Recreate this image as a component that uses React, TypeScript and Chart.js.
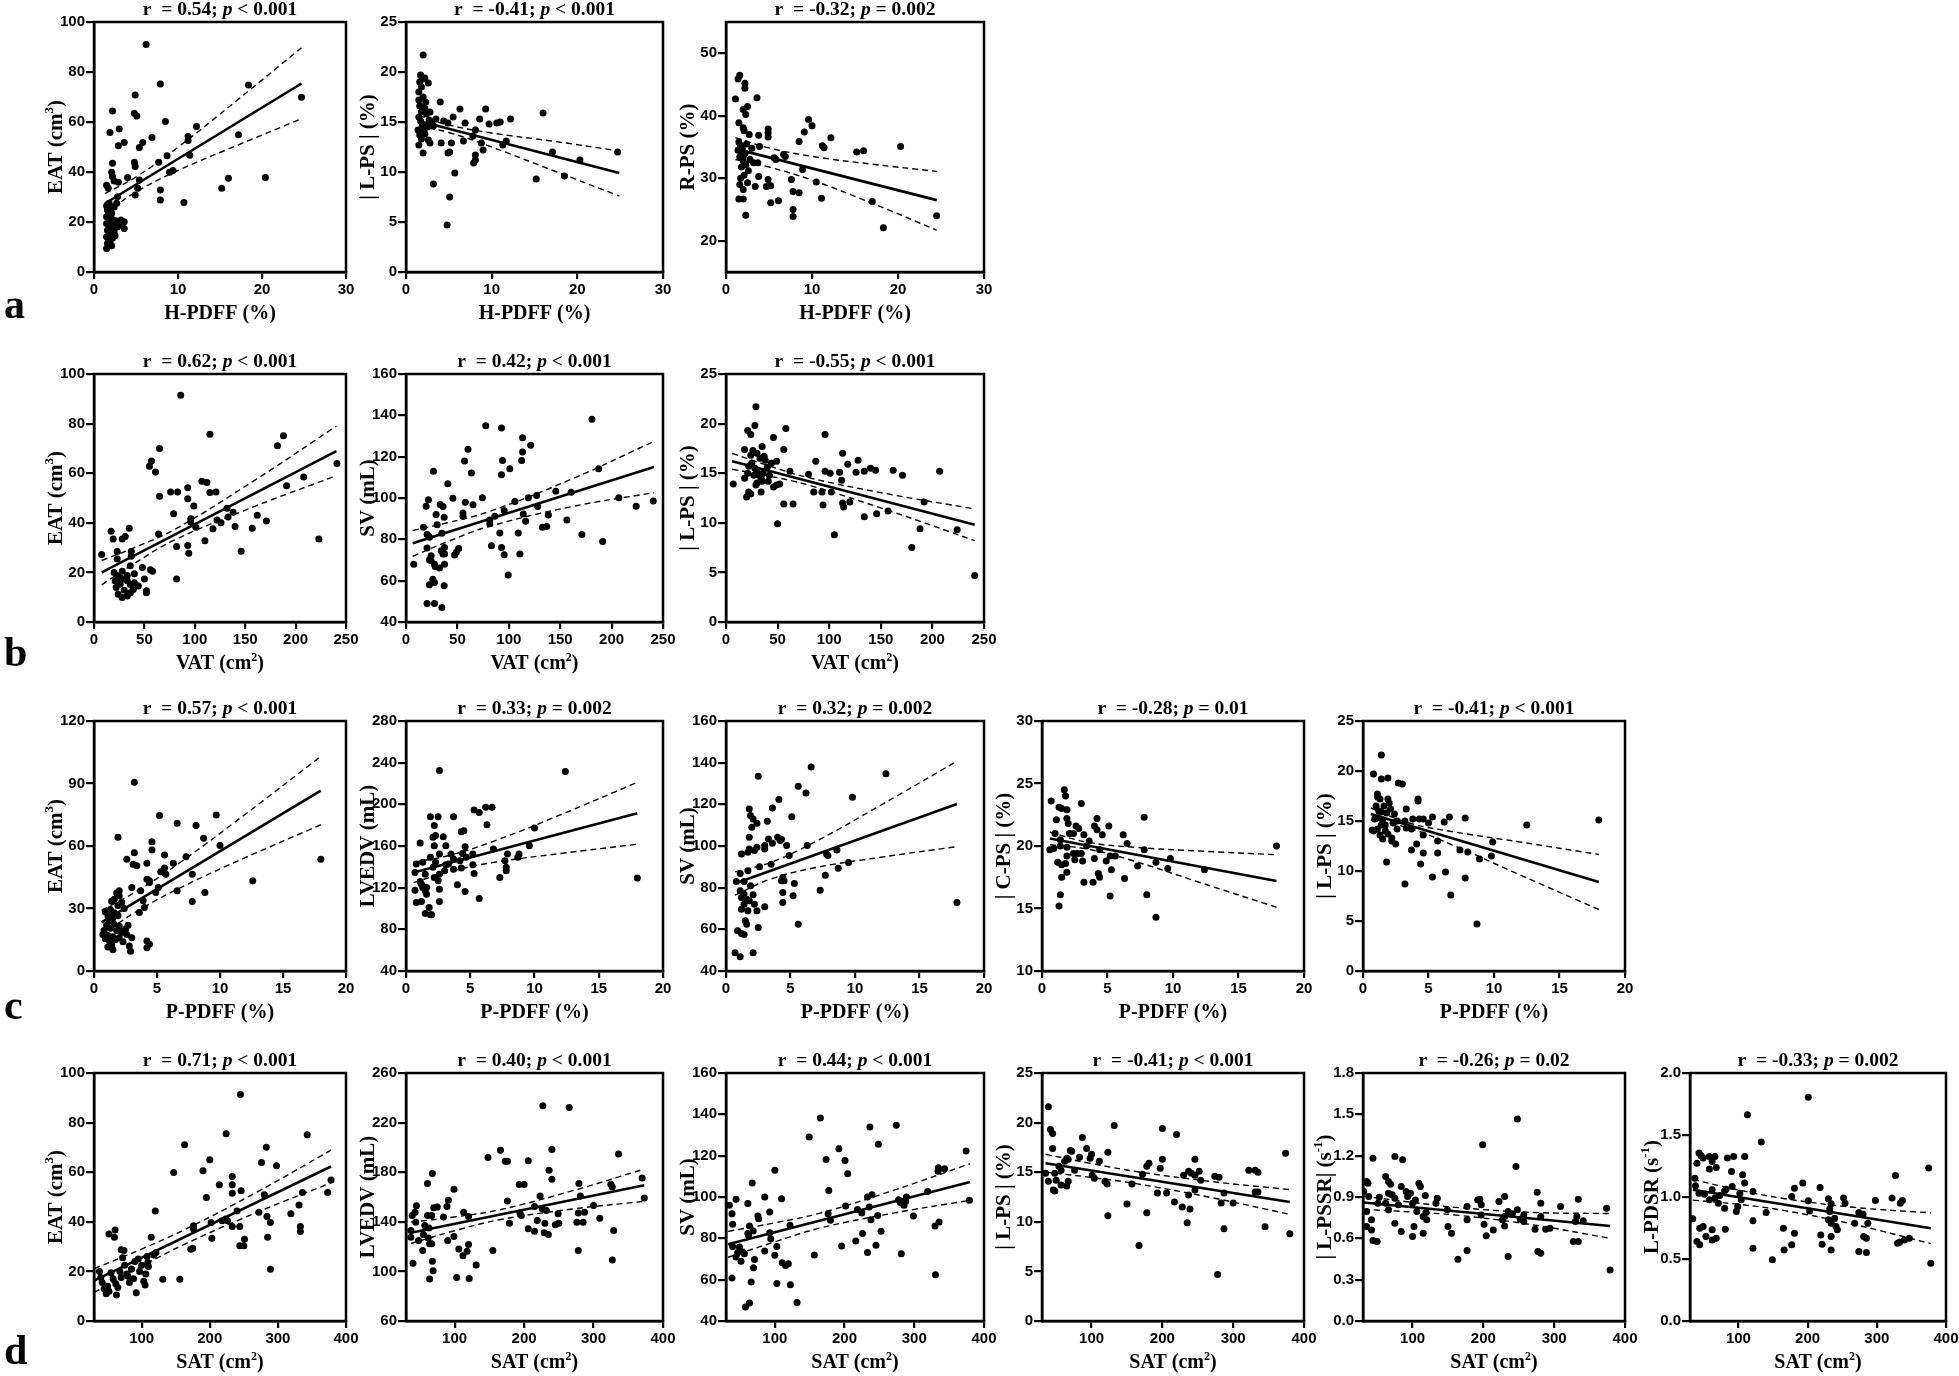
import React, { useEffect, useRef } from "react";
import { Chart, registerables } from "chart.js";
Chart.register(...registerables);

type Pt = [number, number];

// ---------- tick values / labels ----------
const xTicksHPDFF = [0, 10, 20, 30];
const xTicksVAT = [0, 50, 100, 150, 200, 250];
const xTicksPPDFF = [0, 5, 10, 15, 20];
const xTicksSAT = [100, 200, 300, 400];
const yTicksEAT100 = [0, 20, 40, 60, 80, 100];
const yTicksPS25 = [0, 5, 10, 15, 20, 25];
const yTicksRPS = [20, 30, 40, 50];
const yTicksSV = [40, 60, 80, 100, 120, 140, 160];
const yTicksEAT120 = [0, 30, 60, 90, 120];
const yTicksLVEDVc = [40, 80, 120, 160, 200, 240, 280];
const yTicksCPS = [10, 15, 20, 25, 30];
const yTicksLVEDVd = [60, 100, 140, 180, 220, 260];
const yTicksPSSR = [0, 0.3, 0.6, 0.9, 1.2, 1.5, 1.8];
const yLabelsPSSR = ["0.0", "0.3", "0.6", "0.9", "1.2", "1.5", "1.8"];
const yTicksPDSR = [0, 0.5, 1, 1.5, 2];
const yLabelsPDSR = ["0.0", "0.5", "1.0", "1.5", "2.0"];

// ---------- row a : H-PDFF ----------
const a1Pts: Pt[] = [[6.2,91],[7.9,75.2],[18.4,74.8],[4.9,70.8],[24.7,69.9],[2.2,64.4],[4.8,63.5],[5.1,62.4],[8.5,60.2],[12.2,58.2],[3.0,57.2],[1.9,55.8],[5.8,51.8],[5.4,49.8],[6.9,53.8],[11.2,54.2],[11.2,52.6],[17.2,54.9],[3.6,51.8],[2.9,50.5],[8.7,46.5],[11.4,46.7],[7.7,43.9],[4.8,43.9],[4.9,42.2],[2.2,43.5],[2.1,39.9],[2.2,38.2],[2.4,36.4],[4.0,37.8],[9.0,39.9],[9.4,40.6],[16.0,37.5],[20.4,37.8],[1.5,34.7],[1.7,33.5],[2.9,35.9],[5.4,36.8],[5.2,33.5],[4.9,30.8],[15.2,33.5],[7.9,32.8],[7.9,28.8],[10.7,27.8],[2.8,30.1],[1.5,26.4],[1.6,24.8],[1.5,22.1],[1.5,19.4],[1.6,16.7],[1.5,14.1],[1.6,11.4],[1.5,9.4],[1.8,27.5],[2.0,25.5],[2.1,23.5],[2.2,21.0],[2.3,18.5],[2.4,16.2],[2.2,13.5],[1.9,12.0],[2.6,20.5],[2.8,18.0],[3.2,20.8],[3.6,20.1],[3.6,17.4],[2.5,14.5],[1.8,18.0],[2.0,20.0],[1.7,22.5],[2.4,26.0],[2.7,27.5],[1.9,15.5],[2.1,10.5],[1.7,13.0],[3.0,19.0],[2.2,16.0]];
const a1FitX = [1.3, 24.7];
const a1FitY = [27.4, 75.4];
const a1BandX = [1.3, 5, 10, 17, 24.7];
const a1Upper = [31.4, 38.0, 49.9, 68.6, 89.7];
const a1Lower = [23.4, 32.0, 40.6, 50.6, 61.3];

const a2Pts: Pt[] = [[2.0,21.7],[1.7,19.7],[2.2,19.4],[2.6,18.9],[4.0,17.0],[6.3,16.3],[9.3,16.3],[16.0,15.9],[12.2,15.3],[11.0,15.0],[10.6,14.9],[9.7,14.8],[8.6,15.3],[5.5,15.5],[4.4,15.1],[4.9,14.9],[6.9,14.9],[8.1,14.2],[7.8,13.6],[6.7,13.1],[5.3,12.9],[5.1,12.0],[4.9,11.9],[4.1,12.9],[2.8,12.9],[8.8,12.9],[11.7,13.1],[11.3,12.7],[9.0,12.2],[8.1,11.2],[7.9,10.9],[8.1,11.7],[2.0,11.9],[17.1,12.0],[24.7,12.0],[20.3,11.2],[5.7,9.9],[15.2,9.3],[18.5,9.6],[3.2,8.8],[5.1,7.5],[4.8,4.7],[1.5,17.2],[1.6,16.6],[1.8,16.0],[1.5,15.5],[1.7,15.1],[1.9,14.6],[2.1,14.2],[1.6,13.7],[1.8,13.3],[2.2,13.8],[2.5,14.5],[2.7,15.2],[3.0,15.0],[2.4,15.8],[2.2,16.4],[1.5,18.0],[1.8,18.5],[2.0,17.5],[2.3,17.0],[1.4,14.2],[1.5,12.7],[3.2,14.6],[3.5,15.3],[2.8,16.0],[1.9,19.3],[1.6,19.0],[2.6,13.2]];
const a2FitX = [1.5, 24.9];
const a2FitY = [15.1, 9.9];
const a2BandX = [1.5, 5, 10, 17, 24.9];
const a2Upper = [15.65, 14.7, 13.9, 13.1, 12.1];
const a2Lower = [14.55, 13.95, 12.5, 10.2, 7.6];

const a3Pts: Pt[] = [[1.4,45.9],[1.6,46.5],[1.1,42.7],[2.2,45.2],[2.2,44.4],[3.6,42.9],[2.5,41.5],[2.0,41.0],[2.3,40.2],[1.5,38.9],[2.0,38.1],[2.1,37.6],[2.7,37.0],[4.9,37.9],[4.9,37.3],[3.8,36.9],[4.9,36.6],[1.7,35.1],[1.8,34.3],[2.0,33.5],[3.9,35.1],[5.6,33.3],[5.8,33.0],[6.7,33.8],[6.9,33.5],[3.7,32.5],[9.1,37.4],[9.6,39.4],[10.0,38.4],[12.2,36.5],[8.5,35.9],[11.2,35.2],[11.4,34.9],[15.2,34.2],[16.0,34.4],[20.3,35.1],[8.9,31.4],[10.5,29.4],[11.1,26.8],[2.0,28.2],[2.0,26.7],[1.5,26.7],[2.3,24.1],[3.4,28.7],[3.8,30.3],[4.7,28.7],[5.2,28.8],[5.2,26.1],[6.1,26.4],[4.9,29.8],[7.6,29.8],[7.8,27.9],[8.5,27.7],[7.8,25.0],[7.8,23.9],[17.0,26.3],[18.3,22.1],[24.5,24.0],[1.5,35.8],[1.7,35.3],[1.9,34.7],[2.2,34.0],[1.6,33.4],[2.0,32.8],[2.3,32.2],[1.8,31.8],[2.6,31.2],[2.1,30.5],[1.7,30.0],[2.5,29.3],[3.0,34.8],[2.8,33.0],[1.4,34.5],[2.4,35.5],[3.2,32.5],[1.6,29.0]];
const a3FitX = [1.1, 24.5];
const a3FitY = [34.7, 26.5];
const a3BandX = [1.1, 5, 10, 17, 24.5];
const a3Upper = [36.5, 34.85, 33.5, 32.25, 31.1];
const a3Lower = [33.0, 31.8, 29.7, 26.0, 21.7];

// ---------- row b : VAT ----------
const b1Pts: Pt[] = [[86,91.4],[115,75.7],[188,75.1],[182,71.1],[65,70.0],[57,64.9],[55,62.8],[61,60.5],[241,63.9],[208,58.5],[107,56.8],[112,56.2],[191,54.9],[65,50.7],[76,52.4],[83,52.4],[93,54.1],[93,49.7],[115,52.2],[121,52.4],[99,46.8],[132,45.9],[79,43.6],[96,41.6],[96,40.3],[126,40.0],[133,42.3],[138,44.3],[122,41.1],[110,32.8],[118,37.6],[140,38.5],[157,37.8],[162,43.0],[171,40.7],[101,38.2],[223,33.5],[82,30.4],[93,30.8],[94,27.7],[146,28.5],[64,35.5],[82,17.3],[7.6,27.2],[17,36.6],[19,33.5],[35,37.8],[31,34.5],[28,33.5],[23,28.4],[23,25.4],[37,28.4],[37,26.5],[36,22.7],[48,22.0],[56,21.1],[58,20.5],[20,20],[23,18.6],[26,17.8],[30,17.3],[33,16.6],[26,15.3],[22,13.9],[24,11.2],[28,9.9],[33,10.5],[36,15.1],[40,15.8],[39,13.1],[36,11.8],[33,18.8],[50,17.3],[52,12.6],[52,11.8],[40,19.5],[28,20.5],[44,14.5],[21,16.5],[30,12.8]];
const b1FitX = [7.6, 240.5];
const b1FitY = [20.0, 68.9];
const b1BandX = [7.6, 40, 80, 160, 240.5];
const b1Upper = [24.8, 30.0, 37.3, 57.3, 79.0];
const b1Lower = [15.0, 23.6, 33.1, 46.7, 59.0];

const b2Pts: Pt[] = [[7.5,68.0],[17.0,85.8],[19.6,96.0],[21.8,99.1],[20.5,82.3],[21.8,81.6],[22.8,81.0],[20.5,75.8],[22.8,70.1],[24.4,69.6],[24.4,72.1],[26.7,113.0],[27.7,68.0],[28.4,66.9],[29.3,92.0],[30.3,87.0],[26.1,60.7],[27.7,59.1],[22.8,58.0],[32.6,66.1],[33.2,96.8],[34.9,82.9],[35.9,95.9],[37.1,90.7],[37.5,76.1],[35.9,72.9],[34.2,74.5],[37.5,72.9],[37.5,68.0],[37.1,57.5],[20.5,48.9],[27.7,48.9],[34.9,47.0],[40.7,106.9],[45.6,99.9],[47.3,72.4],[48.9,73.7],[51.2,75.6],[55.4,91.2],[55.4,92.8],[57.0,117.9],[57.7,98.0],[60.3,123.6],[63.6,112.1],[65.2,96.7],[74.3,100.1],[77.6,134.9],[81.5,89.4],[81.5,87.5],[83.1,76.9],[86.4,91.2],[91.3,83.1],[92.9,133.9],[92.9,111.3],[93.9,118.2],[92.9,76.1],[95.5,72.6],[95.5,93.9],[99.4,62.7],[101.0,114.2],[105.9,98.3],[109.2,83.1],[110.8,72.9],[112.5,118.2],[113.4,129.1],[113.4,122.3],[114.1,92.3],[116.4,88.7],[119.0,100.1],[121.3,125.5],[127.1,101.2],[128.1,95.9],[132.7,85.8],[136.9,86.2],[138.5,91.8],[145.7,103.3],[156.5,89.4],[160.7,102.8],[171.1,82.3],[180.9,138.1],[187.4,114.2],[191.3,78.9],[207.0,100.1],[223.9,96.0],[240.5,98.5]];
const b2FitX = [6.5, 241.2];
const b2FitY = [78.1, 115.0];
const b2BandX = [6.5, 40, 80, 160, 241.2];
const b2Upper = [84.3, 88.0, 93.3, 108.9, 127.4];
const b2Lower = [71.8, 78.8, 86.1, 95.7, 102.6];

const b3Pts: Pt[] = [[29,21.7],[28,19.8],[21,19.3],[24,18.9],[58,19.5],[96,18.9],[46,18.6],[18,17.4],[35,17.7],[30,17.0],[56,17.4],[113,17.0],[37,16.7],[24,16.8],[49,16.2],[87,16.2],[128,16.3],[118,15.9],[145,15.3],[162,15.3],[171,14.8],[207,15.2],[140,15.5],[134,15.2],[126,15.1],[110,15.1],[96,15.2],[101,15.0],[80,14.9],[62,15.2],[21,15.0],[112,14.3],[18,14.5],[34,14.5],[41,14.2],[29,13.8],[22,13.1],[24,12.9],[34,13.1],[49,13.8],[52,13.9],[46,13.6],[85,13.1],[93,13.1],[102,13.1],[7,13.9],[20,12.6],[56,11.9],[65,11.9],[94,11.8],[113,12.0],[114,11.6],[120,12.1],[192,12.1],[134,10.6],[146,10.9],[157,11.2],[50,9.9],[105,8.8],[188,9.4],[224,9.3],[180,7.5],[241,4.7],[25,16.0],[28,15.5],[30,15.2],[32,14.8],[35,14.2],[38,16.3],[40,15.6],[27,14.8],[33,16.5],[36,15.0],[42,14.8],[30,14.0],[26,17.3],[44,16.0],[22,15.7]];
const b3FitX = [6, 241];
const b3FitY = [16.2, 9.8];
const b3BandX = [6, 40, 80, 160, 241];
const b3Upper = [17.0, 15.8, 14.55, 12.85, 11.4];
const b3Lower = [15.4, 14.75, 13.8, 11.15, 8.2];

// ---------- row c : P-PDFF ----------
const c1Pts: Pt[] = [[3.2,90.6],[5.2,74.6],[9.7,74.9],[6.6,70.9],[8.1,69.8],[18.0,53.7],[1.9,64.2],[8.7,63.7],[4.6,62.1],[10.0,60.2],[3.2,56.8],[4.6,58.1],[5.6,55.7],[7.3,54.9],[2.6,53.7],[3.1,51.3],[3.4,50.5],[4.2,51.7],[6.3,51.7],[5.6,49.4],[5.3,47.6],[5.7,46.5],[7.8,46.5],[4.2,44.1],[4.4,43.3],[12.6,43.3],[4.4,42.5],[5.1,40.1],[4.9,37.7],[8.8,37.7],[7.8,33.4],[6.6,38.5],[3.0,40.1],[3.7,38.5],[3.9,33.7],[4.0,30.5],[3.6,28.1],[2.0,38.5],[4.2,14.4],[4.4,12.8],[4.2,11.2],[1.8,37.5],[2.0,36.0],[1.6,34.5],[1.4,33.5],[2.2,33.0],[1.9,31.5],[1.3,29.5],[0.9,28.5],[1.6,28.0],[2.4,30.0],[1.1,26.5],[1.5,25.5],[1.9,26.5],[1.2,24.0],[1.0,22.0],[1.6,22.5],[2.0,21.5],[0.8,19.5],[1.3,20.5],[1.8,19.5],[2.2,18.5],[0.7,17.5],[1.1,17.0],[1.5,16.5],[2.0,16.0],[2.6,17.5],[1.2,14.5],[1.7,15.0],[0.9,15.5],[1.4,12.5],[1.1,11.5],[1.5,10.2],[2.8,12.0],[2.9,9.5],[2.3,14.0],[3.0,16.0],[2.5,20.0],[2.7,22.0]];
const c1FitX = [0.6, 18.0];
const c1FitY = [23.3, 86.6];
const c1BandX = [0.6, 3.5, 7, 12, 18];
const c1Upper = [29.1, 38.7, 52.8, 75.2, 103.0];
const c1Lower = [17.5, 29.0, 40.4, 54.4, 70.2];

const c2Pts: Pt[] = [[2.6,232.5],[12.4,231.5],[6.2,197.2],[6.7,197.2],[5.3,194.6],[5.7,192.1],[6.3,180.5],[1.9,188.2],[2.5,188.2],[3.7,188.2],[2.2,179.6],[2.3,170.0],[2.1,168.3],[4.5,174.7],[4.3,173.8],[2.9,169.0],[10.0,177.3],[1.1,162.9],[2.2,160.3],[3.1,160.3],[4.6,159.3],[9.6,160.3],[6.8,157.1],[2.6,152.3],[3.5,152.3],[4.4,152.9],[5.2,152.3],[7.9,152.3],[8.8,152.3],[3.7,147.5],[4.7,149.1],[8.7,149.1],[7.7,145.9],[1.9,149.1],[2.3,144.3],[3.1,142.0],[3.3,142.7],[4.2,145.9],[4.3,138.8],[0.8,142.7],[1.3,144.3],[2.1,139.5],[3.0,136.2],[3.7,137.8],[5.2,142.0],[5.3,133.7],[0.7,134.6],[1.5,133.0],[2.6,133.0],[7.8,136.2],[7.8,139.5],[7.3,129.8],[18.0,129.2],[1.1,126.0],[1.2,123.4],[1.3,120.2],[1.5,117.0],[1.6,113.8],[2.2,129.8],[2.5,126.6],[2.6,118.6],[4.0,122.8],[4.6,116.4],[2.6,106.7],[5.7,109.6],[0.8,105.8],[1.2,106.7],[1.8,101.0],[1.5,95.2],[1.9,93.9],[2.0,93.9],[0.7,117.6],[1.6,120.2]];
const c2FitX = [0.6, 18.0];
const c2FitY = [134.6, 191.4];
const c2BandX = [0.6, 3.5, 7, 12, 18];
const c2Upper = [144.3, 151.4, 165.4, 189.8, 221.1];
const c2Lower = [124.9, 135.8, 144.6, 152.8, 161.7];

const c3Pts: Pt[] = [[6.6,137.9],[12.4,134.7],[2.5,133.5],[5.6,128.7],[6.2,125.4],[9.8,123.4],[4.1,122.3],[3.6,118.3],[1.8,117.8],[1.9,114.6],[2.1,113.0],[5.1,114.1],[2.4,110.9],[3.2,111.9],[2.0,109.0],[1.8,104.2],[3.3,103.4],[4.0,104.2],[4.2,102.6],[4.3,103.2],[6.3,100.2],[4.7,100.2],[3.6,101.3],[3.0,100.2],[2.4,99.4],[3.0,98.6],[1.8,98.6],[1.2,96.2],[1.7,97.0],[2.2,97.8],[4.9,95.4],[7.8,96.2],[7.9,95.4],[8.6,98.1],[9.5,92.1],[3.5,91.3],[2.6,90.1],[1.7,88.1],[1.1,86.8],[4.4,84.9],[4.5,83.3],[4.3,83.3],[5.3,82.0],[7.7,86.0],[8.7,89.3],[0.8,83.0],[1.4,83.0],[1.9,80.9],[1.1,78.5],[1.4,76.9],[1.2,75.3],[1.6,74.5],[1.8,73.7],[1.4,72.1],[1.2,69.7],[1.7,68.9],[2.1,76.6],[2.2,72.1],[3.0,70.8],[2.4,68.9],[4.4,77.7],[4.4,72.9],[5.2,76.1],[7.3,78.8],[1.5,64.1],[1.6,62.5],[2.5,60.9],[5.6,62.5],[0.9,59.3],[1.2,58.0],[1.4,57.5],[0.7,48.8],[1.1,46.9],[2.1,48.8],[17.9,72.9]];
const c3FitX = [0.7, 17.9];
const c3FitY = [82.0, 120.2];
const c3BandX = [0.7, 3.5, 7, 12, 17.9];
const c3Upper = [87.6, 92.2, 102.3, 119.6, 140.7];
const c3Lower = [76.4, 84.2, 89.7, 94.6, 99.7];

const c4Pts: Pt[] = [[0.7,23.6],[1.7,24.5],[1.8,24.0],[3.0,23.4],[1.3,23.1],[1.5,23.0],[1.9,22.9],[1.9,22.2],[4.2,22.2],[7.8,22.3],[1.1,22.1],[2.0,21.8],[4.0,21.6],[5.1,21.6],[4.2,21.3],[2.6,21.6],[2.8,21.4],[1.0,21.0],[2.1,21.0],[2.4,21.0],[3.2,20.9],[4.6,20.9],[6.2,20.9],[1.4,20.5],[3.6,20.4],[1.4,20.0],[6.5,20.2],[0.6,19.7],[0.9,19.8],[3.4,20.0],[4.4,19.7],[7.8,19.7],[17.9,20.0],[1.9,19.9],[2.4,19.4],[2.7,19.4],[3.0,19.4],[1.9,19.2],[4.0,19.0],[5.2,19.2],[5.6,19.2],[1.2,18.7],[1.5,18.5],[1.8,18.6],[2.5,18.9],[3.1,18.8],[4.9,18.8],[7.3,18.4],[8.7,18.7],[9.8,19.0],[9.6,18.2],[12.4,18.1],[5.3,18.1],[1.9,17.9],[4.3,17.8],[4.4,17.5],[1.5,17.5],[3.2,17.1],[3.9,17.1],[6.3,17.4],[8.0,16.1],[5.2,16.0],[1.4,16.1],[1.3,15.2],[8.7,14.3]];
const c4FitX = [0.6, 17.9];
const c4FitY = [20.6, 17.2];
const c4BandX = [0.6, 3.5, 7, 12, 17.9];
const c4Upper = [21.1, 20.3, 19.9, 19.6, 19.3];
const c4Lower = [20.1, 19.75, 18.8, 17.1, 15.1];

const c5Pts: Pt[] = [[1.4,21.6],[0.8,19.7],[1.9,19.3],[1.4,19.2],[2.7,18.8],[3.0,18.7],[4.2,17.2],[4.2,17.0],[1.1,17.7],[1.1,17.4],[1.3,17.2],[1.9,17.2],[2.0,16.8],[3.3,16.2],[1.4,15.9],[2.4,15.7],[5.3,15.4],[6.6,15.4],[7.8,15.3],[18.0,15.1],[12.5,14.6],[0.9,15.2],[1.1,15.3],[1.5,15.1],[2.6,15.0],[3.2,15.0],[3.8,15.2],[4.3,15.2],[4.6,15.2],[5.0,14.8],[6.2,14.9],[3.3,14.3],[3.7,14.2],[0.7,14.1],[1.1,14.2],[1.7,14.0],[2.6,14.2],[4.6,13.6],[1.3,13.6],[1.5,13.2],[2.2,13.3],[2.2,13.0],[9.9,12.9],[2.5,12.7],[4.1,12.7],[5.7,13.0],[3.7,12.1],[4.6,11.8],[5.7,11.8],[7.4,12.1],[8.0,11.9],[9.8,11.5],[8.9,11.2],[1.8,10.9],[4.4,10.7],[6.3,9.9],[5.3,9.4],[7.8,9.3],[3.2,8.7],[6.7,7.6],[8.7,4.7],[1.0,16.5],[1.2,16.0],[1.6,16.5],[1.8,15.8],[2.1,16.2],[1.7,14.6],[2.3,14.8],[1.4,14.6],[0.8,14.0],[1.9,13.7]];
const c5FitX = [0.6, 18.0];
const c5FitY = [15.7, 8.9];
const c5BandX = [0.6, 3.5, 7, 12, 18];
const c5Upper = [16.3, 14.8, 13.9, 12.9, 11.65];
const c5Lower = [15.1, 14.3, 12.5, 9.6, 6.15];

// ---------- row d : SAT ----------
const d1Pts: Pt[] = [[245,91.3],[224,75.5],[343,75.1],[163,71.1],[283,70.1],[276,63.9],[200,65.0],[147,59.9],[190,60.6],[298,62.6],[378,56.9],[233,58.3],[214,54.9],[233,54.9],[233,51.5],[246,52.5],[195,49.8],[373,51.8],[336,51.8],[280,50.9],[240,44.4],[272,43.9],[319,43.2],[331,46.8],[120,44.4],[223,41.1],[218,40.4],[226,40.4],[244,38.1],[233,38.1],[176,38.4],[176,37.0],[202,39.7],[284,42.1],[289,39.7],[333,38.1],[333,36.1],[114,33.8],[203,33.4],[172,28.9],[175,29.3],[244,30.3],[250,30.3],[251,33.0],[285,33.8],[61,36.7],[52,35.1],[60,33.8],[70,28.7],[74,28.4],[121,27.6],[118,26.6],[109,23.6],[289,20.9],[131,16.8],[156,16.8],[92,11.4],[38,20],[40,17.5],[42,15.5],[45,13],[48,11],[50,14],[55,19.5],[58,17],[62,15],[65,13.5],[68,20],[70,17.5],[75,22.5],[78,19],[82,15.5],[85,21],[88,17],[90,24],[95,25],[97,20],[100,22.5],[103,16],[105,14.5],[106,19],[108,26],[110,22],[63,10.5],[52,12],[72,25.5],[80,18]];
const d1FitX = [30, 378];
const d1FitY = [16.3, 62.3];
const d1BandX = [30, 100, 165, 270, 378];
const d1Upper = [21.1, 29.0, 37.1, 52.1, 68.9];
const d1Lower = [11.5, 22.1, 31.2, 43.9, 55.7];

const d2Pts: Pt[] = [[227,233.5],[265,232.2],[166,197.8],[240,198.4],[336,194.6],[148,191.9],[173,188.9],[176,188.9],[206,189.2],[236,181.6],[68,178.9],[325,170.3],[327,168],[279,170.8],[240,174.3],[200,170.0],[193,170.0],[370,175.4],[61,170.8],[99,166.2],[176,156.8],[91,157.3],[223,160.8],[281,160.8],[373,159.2],[300,153.2],[45,153.0],[75,151.9],[70,151.4],[89,152.4],[61,145.1],[67,145.1],[43,147.8],[215,152.4],[226,150.5],[232,149.2],[249,146.5],[278,147.0],[287,147.8],[194,147.0],[196,145.0],[179,138.9],[113,147.8],[120,144.3],[84,143.8],[39,145.1],[44,139.7],[57,137.0],[63,135.1],[37,133.0],[219,141.1],[230,138.9],[245,137.6],[250,138.9],[276,139.7],[285,139.7],[309,142.9],[329,133.0],[206,134.3],[215,132.4],[229,131.1],[235,129.7],[37,127.6],[48,124.9],[55,129.7],[62,127.0],[64,122.2],[67,122.2],[90,124.9],[99,128.1],[120,121.6],[106,118.1],[118,116.2],[112,112.7],[54,116.8],[40,106.5],[68,108.1],[69,100.5],[131,105.1],[103,95.1],[121,94.3],[64,93.8],[155,116.8],[278,116.8],[327,109.2]];
const d2FitX = [37, 373];
const d2FitY = [131.1, 169.5];
const d2BandX = [37, 100, 165, 270, 373];
const d2Upper = [139.7, 143.9, 149.7, 165.1, 182.5];
const d2Lower = [122.5, 132.8, 141.7, 150.3, 156.5];

const d3Pts: Pt[] = [[34.7,96.0],[38.6,91.9],[39.5,86.8],[44.4,98.9],[38.6,60.8],[39.5,76.1],[44.4,71.0],[46.8,73.1],[49.2,75.8],[51.6,68.9],[54.0,73.4],[56.4,72.6],[61.3,96.9],[62.3,81.5],[61.3,82.3],[63.7,86.0],[67.6,106.8],[69.0,83.5],[69.5,65.8],[70.9,69.7],[66.1,58.9],[75.8,90.8],[76.8,89.5],[85.5,100.0],[85.5,73.9],[92.7,92.7],[92.7,82.7],[94.2,79.8],[100,112.9],[100,71.8],[102.9,76.1],[102.9,58.1],[109.7,99.2],[110.6,68.2],[115.5,66.9],[119.4,67.7],[121.8,86.3],[122.3,57.6],[57.9,46.8],[63.7,48.7],[131.9,48.9],[149.3,129.0],[156.6,71.9],[165.3,138.2],[173.5,118.1],[176.4,91.9],[177.4,103.2],[179.8,88.7],[191.9,123.4],[195.8,76.3],[200.6,117.7],[201.6,95.6],[204.5,111.3],[216.1,78.7],[218.5,93.9],[224.8,92.3],[225.8,82.3],[233.0,100.0],[233.0,73.1],[235.4,95.2],[236.4,133.9],[237.9,89.0],[239.3,101.1],[245.1,76.6],[247.6,91.1],[248.5,125.5],[252.4,83.4],[274.2,134.7],[277.6,98.7],[280,97.3],[283.8,96.8],[285.3,96.0],[287.7,97.9],[288.7,100.0],[281.4,72.6],[298.8,90.8],[319.2,102.7],[330.3,62.4],[329.8,86.0],[335.6,87.9],[334.6,114.2],[334.2,112.4],[343.4,113.7],[374.3,122.3],[379.1,98.4]];
const d3FitX = [33, 380];
const d3FitY = [77.1, 107.3];
const d3BandX = [33, 100, 165, 270, 380];
const d3Upper = [83.35, 87.5, 92.2, 103.2, 116.1];
const d3Lower = [70.85, 78.3, 85.0, 92.2, 98.4];

const d4Pts: Pt[] = [[39,21.6],[42,19.3],[45,18.9],[132,19.7],[200,19.4],[220,18.8],[87,18.5],[70,17.2],[72,17.1],[93,17.4],[100,16.8],[123,17.0],[111,16.1],[83,16.5],[65,16.4],[67,16.3],[200,16.3],[374,16.9],[178,15.6],[181,15.9],[246,16.3],[98,16.4],[54,15.6],[57,15.2],[76,15.2],[35,14.9],[48,14.9],[322,15.2],[331,15.2],[335,15.0],[172,14.8],[197,15.4],[230,14.7],[237,15.1],[241,14.9],[246,14.7],[252,15.1],[101,14.7],[104,14.4],[274,14.6],[280,14.5],[119,14.1],[39,14.1],[50,14.2],[57,13.7],[46,13.2],[48,13.1],[65,13.6],[157,13.8],[122,13.8],[254,14.2],[237,12.7],[246,13.2],[193,12.9],[206,12.9],[217,12.0],[228,11.5],[239,11.3],[331,13.0],[335,13.0],[287,12.9],[283,11.9],[300,11.9],[150,11.8],[178,10.9],[123,10.6],[235,9.9],[287,9.3],[345,9.5],[380,8.8],[167,7.6],[278,4.7],[45,17.4],[67,14.1],[62,16.1]];
const d4FitX = [35, 380];
const d4FitY = [15.9, 12.0];
const d4BandX = [35, 100, 165, 270, 380];
const d4Upper = [16.8, 15.87, 15.05, 14.05, 13.25];
const d4Lower = [15.0, 14.47, 13.82, 12.43, 10.75];

const d5Pts: Pt[] = [[248,1.466],[199,1.279],[44,1.182],[75,1.194],[86,1.170],[246,1.122],[35,1.013],[37,1.000],[62,1.049],[66,1.013],[69,0.993],[84,0.976],[109,1.000],[91,0.940],[66,0.928],[71,0.916],[111,0.976],[97,0.928],[118,0.911],[135,0.891],[192,0.879],[195,0.884],[222,0.867],[230,0.904],[276,0.935],[38,0.904],[31,0.940],[53,0.899],[75,0.891],[93,0.904],[104,0.879],[51,0.855],[62,0.855],[80,0.843],[100,0.855],[133,0.855],[197,0.843],[248,0.807],[281,0.855],[334,0.884],[35,0.795],[66,0.807],[106,0.795],[119,0.787],[149,0.807],[177,0.831],[197,0.770],[235,0.795],[241,0.778],[230,0.758],[257,0.770],[309,0.831],[332,0.758],[374,0.819],[42,0.734],[75,0.710],[115,0.758],[120,0.734],[150,0.686],[177,0.734],[201,0.703],[227,0.734],[252,0.739],[281,0.758],[330,0.722],[341,0.727],[257,0.722],[230,0.690],[214,0.661],[35,0.686],[42,0.661],[102,0.686],[155,0.637],[273,0.666],[288,0.666],[294,0.673],[115,0.637],[84,0.649],[100,0.613],[50,0.577],[44,0.584],[204,0.618],[327,0.577],[334,0.577],[277,0.504],[281,0.492],[177,0.511],[164,0.448],[235,0.468],[379,0.371]];
const d5FitX = [31, 379];
const d5FitY = [0.86, 0.69];
const d5BandX = [31, 100, 165, 270, 379];
const d5Upper = [0.905, 0.861, 0.823, 0.788, 0.78];
const d5Lower = [0.81, 0.791, 0.767, 0.698, 0.6];

const d6Pts: Pt[] = [[201,1.804],[113,1.664],[133,1.443],[43,1.354],[46,1.332],[49,1.314],[40,1.273],[37,1.152],[58,1.327],[66,1.327],[62,1.287],[84,1.314],[93,1.327],[109,1.327],[68,1.238],[58,1.225],[90,1.206],[106,1.179],[109,1.112],[375,1.233],[327,1.174],[38,1.090],[62,1.058],[82,1.063],[80,1.050],[91,1.085],[102,1.031],[121,1.044],[51,1.023],[73,1.012],[58,0.977],[66,0.991],[104,0.977],[181,1.071],[193,1.112],[218,1.077],[177,1.004],[201,0.969],[203,0.888],[140,0.875],[43,1.031],[71,0.950],[80,0.910],[97,0.883],[99,0.923],[230,0.985],[234,0.945],[254,0.950],[252,0.991],[232,0.904],[232,0.883],[298,0.972],[322,0.991],[337,0.972],[334,0.950],[274,0.875],[280,0.861],[287,0.789],[268,0.789],[230,0.816],[239,0.829],[234,0.789],[243,0.735],[241,0.762],[219,0.694],[234,0.681],[221,0.619],[234,0.573],[285,0.668],[281,0.681],[330,0.627],[333,0.635],[340,0.654],[347,0.668],[274,0.560],[285,0.552],[165,0.748],[181,0.708],[177,0.614],[166,0.573],[149,0.493],[121,0.587],[121,0.808],[44,0.748],[49,0.762],[68,0.668],[62,0.654],[53,0.681],[40,0.641],[44,0.614],[34,0.824],[62,0.735],[81,0.740],[378,0.466]];
const d6FitX = [34, 378];
const d6FitY = [1.058, 0.748];
const d6BandX = [34, 100, 165, 270, 378];
const d6Upper = [1.141, 1.057, 0.988, 0.915, 0.872];
const d6Lower = [0.975, 0.941, 0.892, 0.775, 0.624];

// ---------- layout (plot-area boxes in page pixels) ----------
const COLS: [number, number][] = [[94, 346], [406, 663], [726, 984], [1042, 1304], [1363, 1625], [1690, 1946]];
const ROWS: [number, number][] = [[22, 272], [374, 622], [721, 971], [1073, 1321]];
const ROW_LABELS = [
  { t: "a", baseline: 318 },
  { t: "b", baseline: 666 },
  { t: "c", baseline: 1019 },
  { t: "d", baseline: 1364 },
];

interface PanelSpec {
  key: string;
  row: number;
  col: number;
  title: string;
  xLabel: string;
  yLabel: string;
  xMin: number; xMax: number; yMin: number; yMax: number;
  xTicks: number[]; yTicks: number[]; yTickLabels?: string[];
  pts: Pt[]; fitX: number[]; fitY: number[]; bandX: number[]; upper: number[]; lower: number[];
}

const XL_H = "H-PDFF (%)";
const XL_V = "VAT (cm^{2})";
const XL_P = "P-PDFF (%)";
const XL_S = "SAT (cm^{2})";

const panels: PanelSpec[] = [
  { key: "a1", row: 0, col: 0, title: "r  = 0.54; _{p} < 0.001", xLabel: XL_H, yLabel: "EAT (cm^{3})", xMin: 0, xMax: 30, yMin: 0, yMax: 100, xTicks: xTicksHPDFF, yTicks: yTicksEAT100, pts: a1Pts, fitX: a1FitX, fitY: a1FitY, bandX: a1BandX, upper: a1Upper, lower: a1Lower },
  { key: "a2", row: 0, col: 1, title: "r  = -0.41; _{p} < 0.001", xLabel: XL_H, yLabel: "| L-PS | (%)", xMin: 0, xMax: 30, yMin: 0, yMax: 25, xTicks: xTicksHPDFF, yTicks: yTicksPS25, pts: a2Pts, fitX: a2FitX, fitY: a2FitY, bandX: a2BandX, upper: a2Upper, lower: a2Lower },
  { key: "a3", row: 0, col: 2, title: "r  = -0.32; _{p} = 0.002", xLabel: XL_H, yLabel: "R-PS (%)", xMin: 0, xMax: 30, yMin: 15, yMax: 55, xTicks: xTicksHPDFF, yTicks: yTicksRPS, pts: a3Pts, fitX: a3FitX, fitY: a3FitY, bandX: a3BandX, upper: a3Upper, lower: a3Lower },
  { key: "b1", row: 1, col: 0, title: "r  = 0.62; _{p} < 0.001", xLabel: XL_V, yLabel: "EAT (cm^{3})", xMin: 0, xMax: 250, yMin: 0, yMax: 100, xTicks: xTicksVAT, yTicks: yTicksEAT100, pts: b1Pts, fitX: b1FitX, fitY: b1FitY, bandX: b1BandX, upper: b1Upper, lower: b1Lower },
  { key: "b2", row: 1, col: 1, title: "r  = 0.42; _{p} < 0.001", xLabel: XL_V, yLabel: "SV (mL)", xMin: 0, xMax: 250, yMin: 40, yMax: 160, xTicks: xTicksVAT, yTicks: yTicksSV, pts: b2Pts, fitX: b2FitX, fitY: b2FitY, bandX: b2BandX, upper: b2Upper, lower: b2Lower },
  { key: "b3", row: 1, col: 2, title: "r  = -0.55; _{p} < 0.001", xLabel: XL_V, yLabel: "| L-PS | (%)", xMin: 0, xMax: 250, yMin: 0, yMax: 25, xTicks: xTicksVAT, yTicks: yTicksPS25, pts: b3Pts, fitX: b3FitX, fitY: b3FitY, bandX: b3BandX, upper: b3Upper, lower: b3Lower },
  { key: "c1", row: 2, col: 0, title: "r  = 0.57; _{p} < 0.001", xLabel: XL_P, yLabel: "EAT (cm^{3})", xMin: 0, xMax: 20, yMin: 0, yMax: 120, xTicks: xTicksPPDFF, yTicks: yTicksEAT120, pts: c1Pts, fitX: c1FitX, fitY: c1FitY, bandX: c1BandX, upper: c1Upper, lower: c1Lower },
  { key: "c2", row: 2, col: 1, title: "r  = 0.33; _{p} = 0.002", xLabel: XL_P, yLabel: "LVEDV (mL)", xMin: 0, xMax: 20, yMin: 40, yMax: 280, xTicks: xTicksPPDFF, yTicks: yTicksLVEDVc, pts: c2Pts, fitX: c2FitX, fitY: c2FitY, bandX: c2BandX, upper: c2Upper, lower: c2Lower },
  { key: "c3", row: 2, col: 2, title: "r  = 0.32; _{p} = 0.002", xLabel: XL_P, yLabel: "SV (mL)", xMin: 0, xMax: 20, yMin: 40, yMax: 160, xTicks: xTicksPPDFF, yTicks: yTicksSV, pts: c3Pts, fitX: c3FitX, fitY: c3FitY, bandX: c3BandX, upper: c3Upper, lower: c3Lower },
  { key: "c4", row: 2, col: 3, title: "r  = -0.28; _{p} = 0.01", xLabel: XL_P, yLabel: "| C-PS | (%)", xMin: 0, xMax: 20, yMin: 10, yMax: 30, xTicks: xTicksPPDFF, yTicks: yTicksCPS, pts: c4Pts, fitX: c4FitX, fitY: c4FitY, bandX: c4BandX, upper: c4Upper, lower: c4Lower },
  { key: "c5", row: 2, col: 4, title: "r  = -0.41; _{p} < 0.001", xLabel: XL_P, yLabel: "| L-PS | (%)", xMin: 0, xMax: 20, yMin: 0, yMax: 25, xTicks: xTicksPPDFF, yTicks: yTicksPS25, pts: c5Pts, fitX: c5FitX, fitY: c5FitY, bandX: c5BandX, upper: c5Upper, lower: c5Lower },
  { key: "d1", row: 3, col: 0, title: "r  = 0.71; _{p} < 0.001", xLabel: XL_S, yLabel: "EAT (cm^{3})", xMin: 30, xMax: 400, yMin: 0, yMax: 100, xTicks: xTicksSAT, yTicks: yTicksEAT100, pts: d1Pts, fitX: d1FitX, fitY: d1FitY, bandX: d1BandX, upper: d1Upper, lower: d1Lower },
  { key: "d2", row: 3, col: 1, title: "r  = 0.40; _{p} < 0.001", xLabel: XL_S, yLabel: "LVEDV (mL)", xMin: 30, xMax: 400, yMin: 60, yMax: 260, xTicks: xTicksSAT, yTicks: yTicksLVEDVd, pts: d2Pts, fitX: d2FitX, fitY: d2FitY, bandX: d2BandX, upper: d2Upper, lower: d2Lower },
  { key: "d3", row: 3, col: 2, title: "r  = 0.44; _{p} < 0.001", xLabel: XL_S, yLabel: "SV (mL)", xMin: 30, xMax: 400, yMin: 40, yMax: 160, xTicks: xTicksSAT, yTicks: yTicksSV, pts: d3Pts, fitX: d3FitX, fitY: d3FitY, bandX: d3BandX, upper: d3Upper, lower: d3Lower },
  { key: "d4", row: 3, col: 3, title: "r  = -0.41; _{p} < 0.001", xLabel: XL_S, yLabel: "| L-PS | (%)", xMin: 30, xMax: 400, yMin: 0, yMax: 25, xTicks: xTicksSAT, yTicks: yTicksPS25, pts: d4Pts, fitX: d4FitX, fitY: d4FitY, bandX: d4BandX, upper: d4Upper, lower: d4Lower },
  { key: "d5", row: 3, col: 4, title: "r  = -0.26; _{p} = 0.02", xLabel: XL_S, yLabel: "| L-PSSR| (s^{-1})", xMin: 30, xMax: 400, yMin: 0, yMax: 1.8, xTicks: xTicksSAT, yTicks: yTicksPSSR, yTickLabels: yLabelsPSSR, pts: d5Pts, fitX: d5FitX, fitY: d5FitY, bandX: d5BandX, upper: d5Upper, lower: d5Lower },
  { key: "d6", row: 3, col: 5, title: "r  = -0.33; _{p} = 0.002", xLabel: XL_S, yLabel: "L-PDSR (s^{-1})", xMin: 30, xMax: 400, yMin: 0, yMax: 2.0, xTicks: xTicksSAT, yTicks: yTicksPDSR, yTickLabels: yLabelsPDSR, pts: d6Pts, fitX: d6FitX, fitY: d6FitY, bandX: d6BandX, upper: d6Upper, lower: d6Lower },
];

// ---------- rich text helpers ----------
type Seg = { t: string; sup?: boolean; it?: boolean };
function parseRich(s: string): Seg[] {
  const segs: Seg[] = [];
  const re = /(\^\{[^}]*\}|_\{[^}]*\})/g;
  let last = 0;
  let m: RegExpExecArray | null;
  while ((m = re.exec(s))) {
    if (m.index > last) segs.push({ t: s.slice(last, m.index) });
    const inner = m[0].slice(2, -1);
    segs.push(m[0][0] === "^" ? { t: inner, sup: true } : { t: inner, it: true });
    last = m.index + m[0].length;
  }
  if (last < s.length) segs.push({ t: s.slice(last) });
  return segs;
}
const SERIF = '"Liberation Serif", "Times New Roman", serif';
function drawRich(ctx: CanvasRenderingContext2D, s: string, cx: number, baseY: number, size: number) {
  const segs = parseRich(s);
  const fontOf = (g: Seg) => `${g.it ? "italic " : ""}bold ${g.sup ? Math.round(size * 0.62) : size}px ${SERIF}`;
  let total = 0;
  const widths = segs.map((g) => {
    ctx.font = fontOf(g);
    const w = ctx.measureText(g.t).width;
    total += w;
    return w;
  });
  let x = cx - total / 2;
  ctx.textAlign = "left";
  ctx.textBaseline = "alphabetic";
  ctx.fillStyle = "#000";
  segs.forEach((g, i) => {
    ctx.font = fontOf(g);
    ctx.fillText(g.t, x, g.sup ? baseY - size * 0.42 : baseY);
    x += widths[i];
  });
}

// ---------- panel ----------
const PL = 75, PT = 30, PR = 20, PB = 60;
const tickFont = { family: '"Liberation Sans", Arial, sans-serif', size: 15, weight: "bold" as const };

function Panel({ spec }: { spec: PanelSpec }) {
  const ref = useRef<HTMLCanvasElement>(null);
  const [l, r] = COLS[spec.col];
  const [t, b] = ROWS[spec.row];
  const w = r - l + PL + PR;
  const h = b - t + PT + PB;

  useEffect(() => {
    const decor = {
      id: "decor",
      afterDraw(chart: any) {
        const ctx: CanvasRenderingContext2D = chart.ctx;
        const a = chart.chartArea;
        ctx.save();
        ctx.strokeStyle = "#000";
        ctx.lineWidth = 2.5;
        ctx.strokeRect(a.left, a.top, a.right - a.left, a.bottom - a.top);
        const cx = (a.left + a.right) / 2;
        drawRich(ctx, spec.title, cx, a.top - 7, 19.5);
        drawRich(ctx, spec.xLabel, cx, a.bottom + 47, 20);
        ctx.translate(a.left - 32, (a.top + a.bottom) / 2);
        ctx.rotate(-Math.PI / 2);
        drawRich(ctx, spec.yLabel, 0, 0, 21);
        ctx.restore();
      },
    };
    const toXY = (xs: number[], ys: number[]) => xs.map((x, i) => ({ x, y: ys[i] }));
    const chart = new Chart(ref.current as HTMLCanvasElement, {
      type: "scatter",
      data: {
        datasets: [
          {
            data: spec.pts.map(([x, y]) => ({ x, y })),
            pointRadius: 3.5,
            pointBackgroundColor: "#000",
            pointBorderWidth: 0,
            showLine: false,
          } as any,
          {
            data: toXY(spec.fitX, spec.fitY),
            showLine: true,
            pointRadius: 0,
            borderColor: "#000",
            borderWidth: 2.6,
            tension: 0,
          } as any,
          {
            data: toXY(spec.bandX, spec.upper),
            showLine: true,
            pointRadius: 0,
            borderColor: "#000",
            borderWidth: 1.4,
            borderDash: [6, 4],
            tension: 0.4,
          } as any,
          {
            data: toXY(spec.bandX, spec.lower),
            showLine: true,
            pointRadius: 0,
            borderColor: "#000",
            borderWidth: 1.4,
            borderDash: [6, 4],
            tension: 0.4,
          } as any,
        ],
      },
      options: {
        responsive: false,
        animation: false,
        devicePixelRatio: 1,
        events: [],
        layout: { padding: { top: PT, right: PR, left: 0, bottom: 0 } },
        plugins: { legend: { display: false }, tooltip: { enabled: false }, title: { display: false } },
        scales: {
          x: {
            type: "linear",
            min: spec.xMin,
            max: spec.xMax,
            afterBuildTicks: (s: any) => { s.ticks = spec.xTicks.map((v) => ({ value: v })); },
            afterFit: (s: any) => { s.height = PB; },
            grid: { display: true, drawOnChartArea: false, drawTicks: true, tickLength: 7, color: "#000", lineWidth: 2.2 },
            border: { display: true, color: "#000", width: 2.5 },
            ticks: { color: "#000", font: tickFont, padding: 2, maxRotation: 0, autoSkip: false },
          },
          y: {
            type: "linear",
            min: spec.yMin,
            max: spec.yMax,
            afterBuildTicks: (s: any) => { s.ticks = spec.yTicks.map((v) => ({ value: v })); },
            afterFit: (s: any) => { s.width = PL; },
            grid: { display: true, drawOnChartArea: false, drawTicks: true, tickLength: 8, color: "#000", lineWidth: 2.2 },
            border: { display: true, color: "#000", width: 2.5 },
            ticks: {
              color: "#000",
              font: tickFont,
              padding: 1,
              autoSkip: false,
              callback: (v: any, i: number) => (spec.yTickLabels ? spec.yTickLabels[i] : String(v)),
            },
          },
        },
      } as any,
      plugins: [decor],
    });
    return () => chart.destroy();
  }, []);

  return (
    <canvas
      ref={ref}
      width={w}
      height={h}
      style={{ position: "absolute", left: l - PL, top: t - PT, width: w, height: h }}
    />
  );
}

export default function App() {
  return (
    <div style={{ position: "absolute", left: 0, top: 0, width: 1959, height: 1376, background: "#fff", overflow: "hidden" }}>
      {panels.map((p) => (
        <Panel key={p.key} spec={p} />
      ))}
      {ROW_LABELS.map((rl) => (
        <div
          key={rl.t}
          style={{
            position: "absolute",
            left: 4,
            top: rl.baseline - 35,
            fontFamily: SERIF,
            fontWeight: "bold",
            fontSize: 42,
            lineHeight: "42px",
            color: "#000",
          }}
        >
          {rl.t}
        </div>
      ))}
    </div>
  );
}
